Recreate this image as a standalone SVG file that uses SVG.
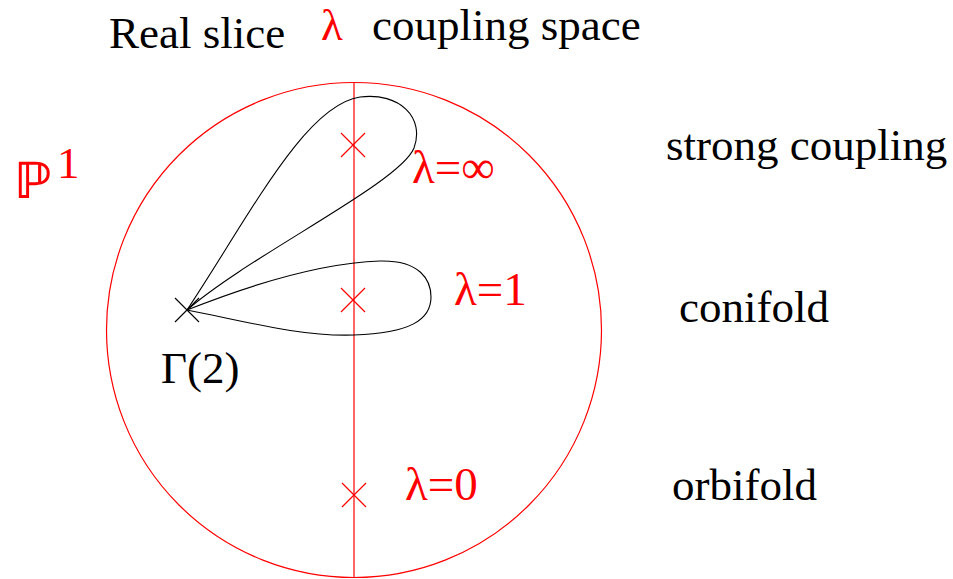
<svg xmlns="http://www.w3.org/2000/svg" width="953" height="579" viewBox="0 0 953 579">
<style>
.t{font-family:"Liberation Serif","Times New Roman",serif;font-size:45px;fill:#000}
.r{fill:#ff0000}
.lab{font-size:47px}
.red{stroke:#ff0000;fill:none;stroke-width:1.2}
.blk{stroke:#000;fill:none;stroke-width:1.1}
</style>
<defs>
<path id="x" d="M-12,-12L12,12M-12,12L12,-12"/>
</defs>
<rect width="953" height="579" fill="#fff"/>
<g id="titles">
<text class="t" x="109" y="48">Real slice</text>
<text class="t r" x="321" y="40">λ</text>
<text class="t" x="372" y="40">coupling space</text>
</g>
<g id="p1">
<text class="r" x="14" y="198" font-family="DejaVu Serif,DejaVu Sans,serif" font-weight="bold" font-size="50">ℙ</text>
<text class="t r" x="57" y="178" font-size="25">1</text>
</g>
<g id="circle">
<circle class="red" cx="354" cy="330" r="247.5"/>
<line class="red" x1="354" y1="83" x2="354" y2="578" stroke-width="1.5"/>
</g>
<g id="connectors">
<path class="blk" d="M187,310 C250,215 305,105 360,97 C400,92 425,118 414,148 C400,183 250,255 187,310"/>
<path class="blk" d="M187,310 C250,285 320,263 380,261 C420,260 431,280 431,297 C431,320 410,333 354,335 C300,337 240,320 187,310"/>
</g>
<g id="lambda-inf">
<use href="#x" x="353" y="145" class="red"/>
<text class="t r lab" x="412" y="183">λ=∞</text>
</g>
<g id="lambda-1">
<use href="#x" x="353" y="300" class="red"/>
<text class="t r lab" x="454" y="305">λ=1</text>
</g>
<g id="lambda-0">
<use href="#x" x="354" y="495" class="red"/>
<text class="t r lab" x="405" y="500">λ=0</text>
</g>
<g id="gamma2">
<use href="#x" x="187" y="310" class="blk"/>
<text class="t" x="161" y="383">Γ(2)</text>
</g>
<g id="labels">
<text class="t" x="666" y="160">strong coupling</text>
<text class="t" x="679" y="322">conifold</text>
<text class="t" x="672" y="500">orbifold</text>
</g>
</svg>
